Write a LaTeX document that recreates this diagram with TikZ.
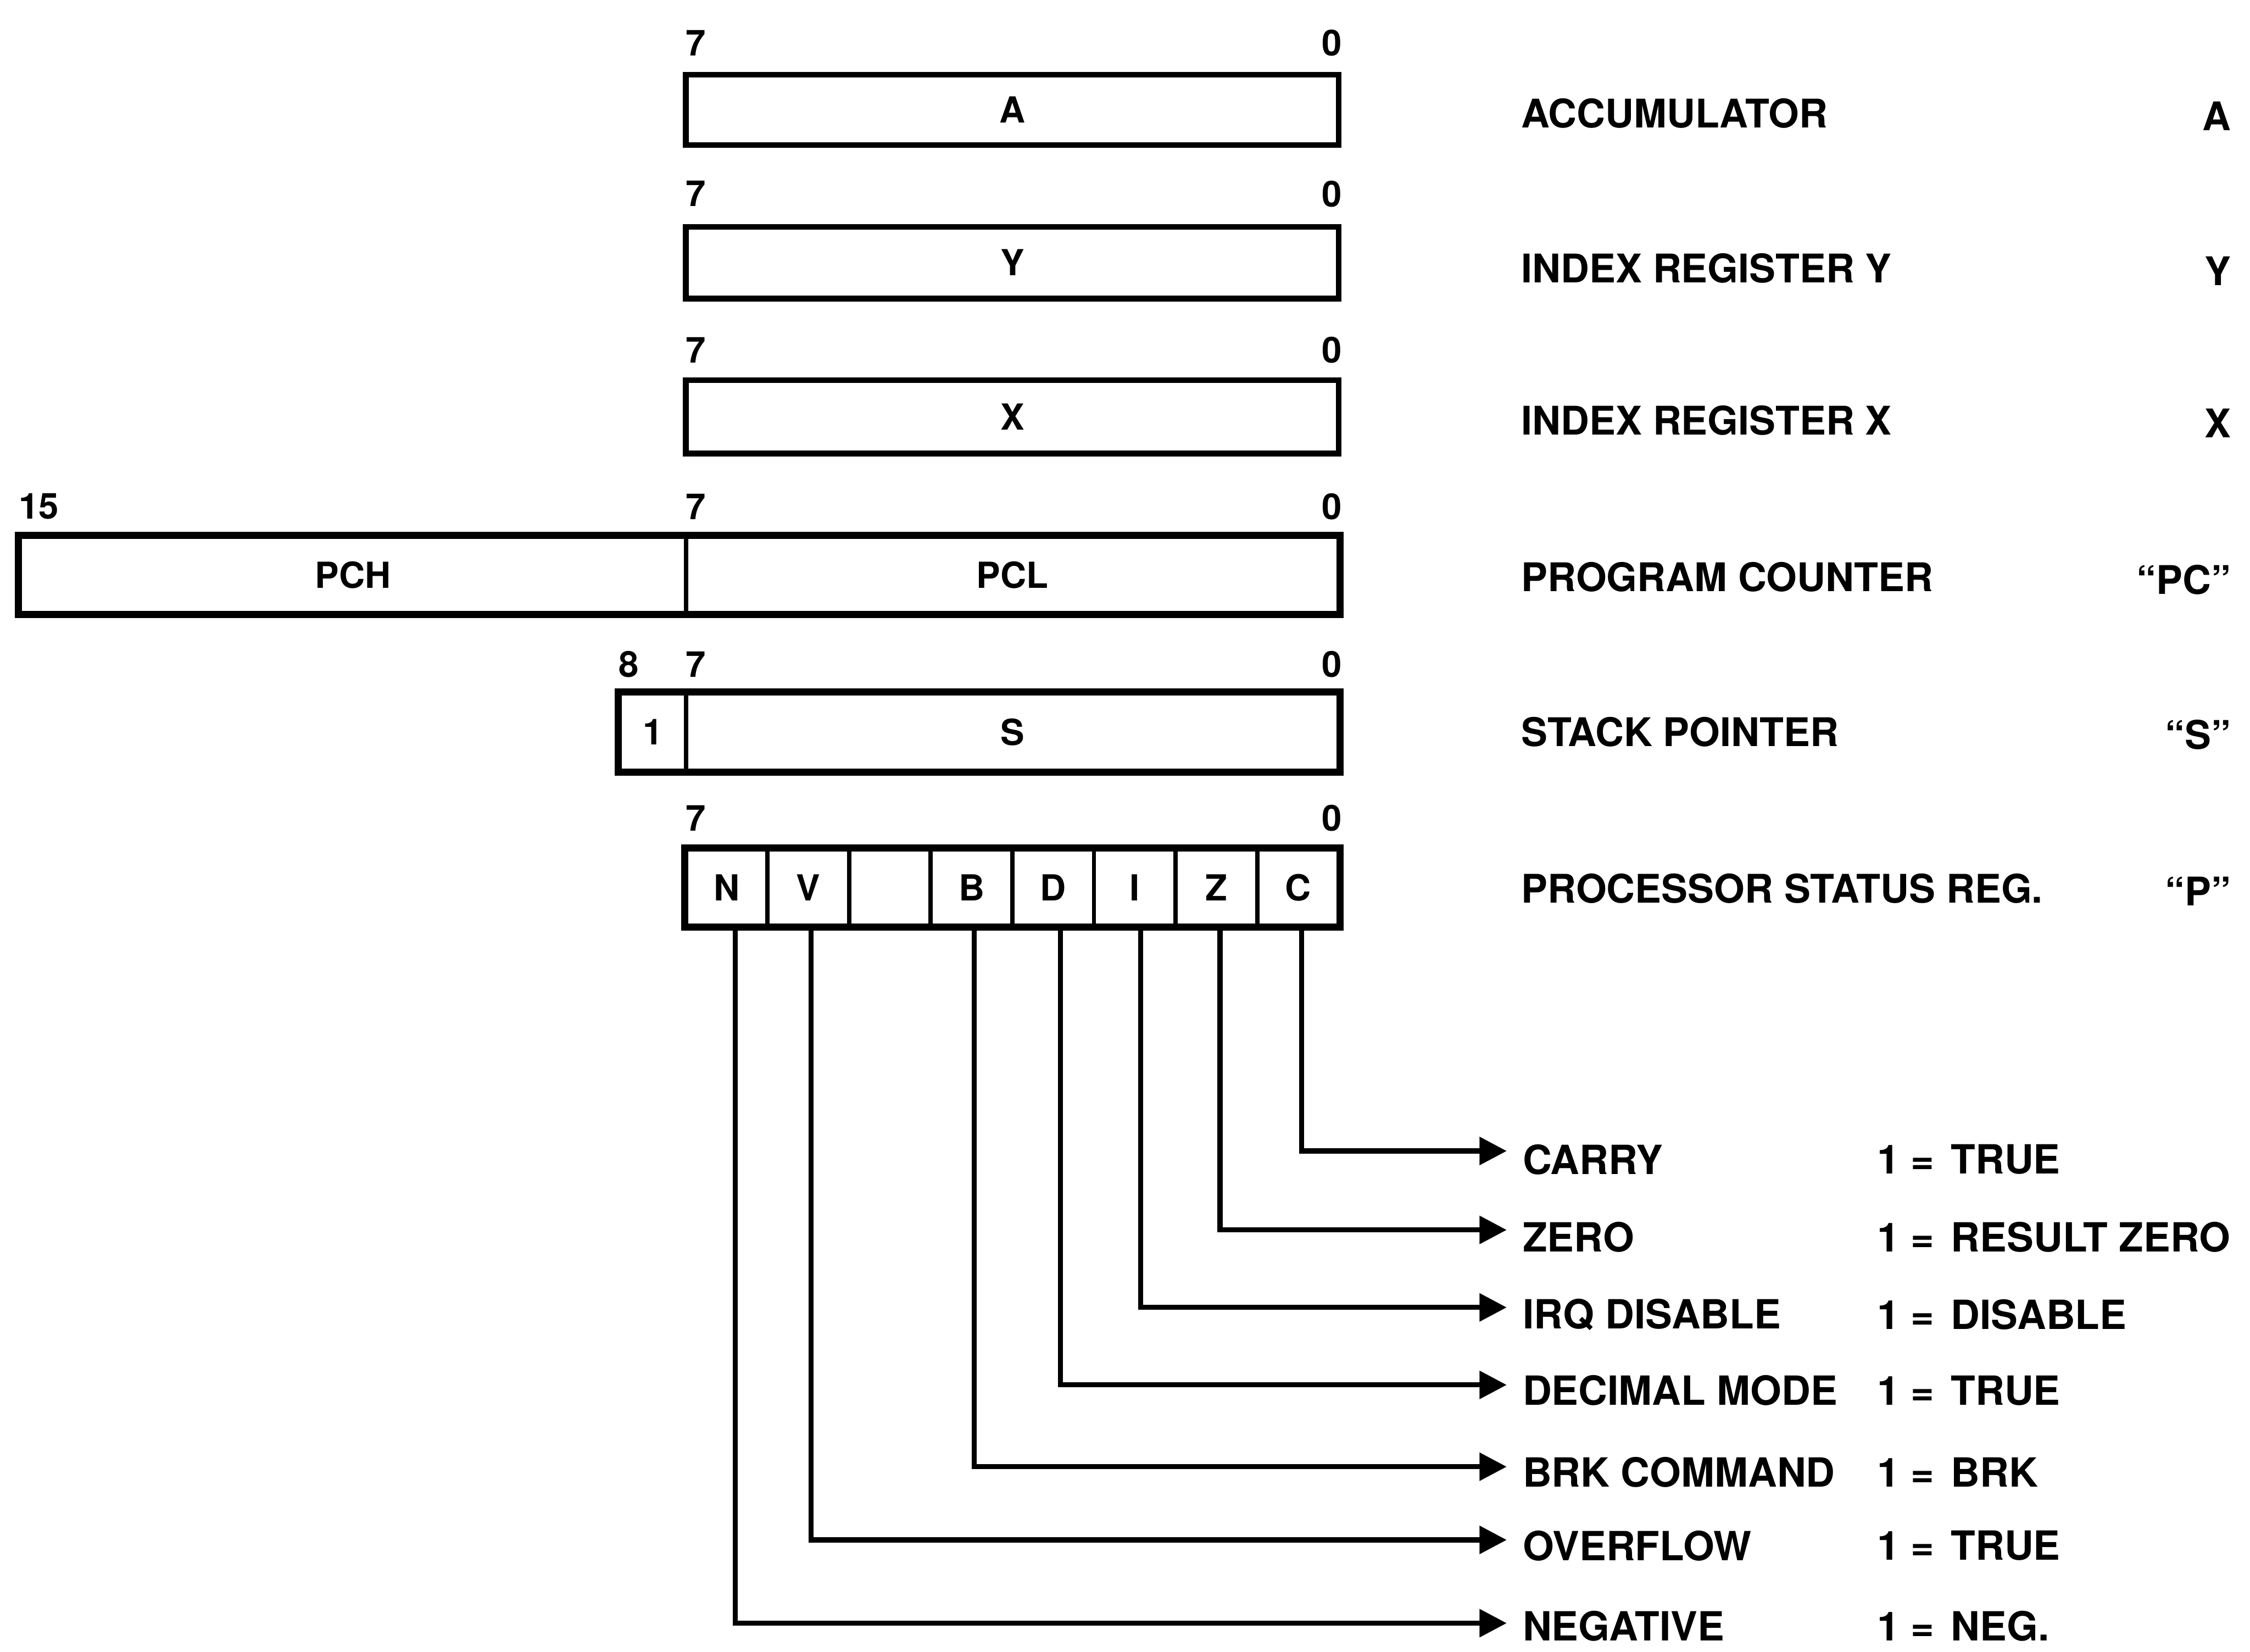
\documentclass[tikz,border=0pt]{standalone}
\usepackage{fontspec}
\setmainfont{TeX Gyre Heros}
\usetikzlibrary{arrows.meta,calc}
\begin{document}
\begin{tikzpicture}[x=1pt,y=-1pt,
  cellbox/.style={draw, line width=3pt, inner sep=0pt, font=\fontsize{25}{25}\selectfont\bfseries},
  regbox/.style={cellbox, line width=4pt},
  outer/.style={line width=4pt},
  bitnum/.style={inner sep=0pt, font=\fontsize{25}{25}\selectfont\bfseries},
  regname/.style={inner sep=0pt, anchor=west, font=\fontsize{27.5}{27.5}\selectfont\bfseries},
  regsym/.style={inner sep=0pt, anchor=east, font=\fontsize{27.5}{27.5}\selectfont\bfseries},
  flagname/.style={inner sep=0pt, anchor=west, font=\fontsize{28}{28}\selectfont\bfseries},
  conn/.style={line width=3.5pt, -{Triangle[length=19pt,width=19pt]}}
]
\useasboundingbox (0,0) rectangle (1568,1151);

% Accumulator
\node[bitnum] (a7) at (485,30) {7};
\node[bitnum] (a0) at (928,30) {0};
\node[regbox, minimum width=455pt, minimum height=49pt] (A) at (705.5,76.5) {A};
\node[regname] (nA) at (1060,79) {ACCUMULATOR};
\node[regsym] (sA) at (1555,81) {A};

% Y
\node[bitnum] (y7) at (485,135) {7};
\node[bitnum] (y0) at (928,135) {0};
\node[regbox, minimum width=455pt, minimum height=50pt] (Y) at (705.5,183) {Y};
\node[regname] (nY) at (1060,187) {INDEX REGISTER Y};
\node[regsym] (sY) at (1555,189) {Y};

% X
\node[bitnum] (x7) at (485,244) {7};
\node[bitnum] (x0) at (928,244) {0};
\node[regbox, minimum width=455pt, minimum height=51pt] (X) at (705.5,290.5) {X};
\node[regname] (nX) at (1060,293) {INDEX REGISTER X};
\node[regsym] (sX) at (1555,295) {X};

% Program counter
\node[bitnum] (pc15) at (27,353) {15};
\node[bitnum] (pc7) at (485,353) {7};
\node[bitnum] (pc0) at (928,353) {0};
\node[cellbox, minimum width=464pt, minimum height=53pt] (PCH) at (246,400.5) {PCH};
\node[cellbox, minimum width=455pt, minimum height=53pt] (PCL) at (705.5,400.5) {PCL};
\draw[outer] (PCH.north west) rectangle (PCL.south east);
\node[regname] (nPC) at (1060,402) {PROGRAM COUNTER};
\node[regsym] (sPC) at (1555,404) {“PC”};

% Stack pointer
\node[bitnum] (s8) at (438,463) {8};
\node[bitnum] (s7) at (485,463) {7};
\node[bitnum] (s0) at (928,463) {0};
\node[cellbox, minimum width=46pt, minimum height=54pt] (S1) at (455,510) {1};
\node[cellbox, minimum width=455pt, minimum height=54pt] (S) at (705.5,510) {S};
\draw[outer] (S1.north west) rectangle (S.south east);
\node[regname] (nS) at (1060,510) {STACK POINTER};
\node[regsym] (sS) at (1555,512) {“S”};

% Processor status
\node[bitnum] (p7) at (485,570) {7};
\node[bitnum] (p0) at (928,570) {0};
\node[cellbox, minimum width=56.875pt, minimum height=53pt] (pN) at (506.44,618.5) {N};
\node[cellbox, minimum width=56.875pt, minimum height=53pt] (pV) at (563.31,618.5) {V};
\node[cellbox, minimum width=56.875pt, minimum height=53pt] (pU) at (620.19,618.5) {};
\node[cellbox, minimum width=56.875pt, minimum height=53pt] (pB) at (677.06,618.5) {B};
\node[cellbox, minimum width=56.875pt, minimum height=53pt] (pD) at (733.94,618.5) {D};
\node[cellbox, minimum width=56.875pt, minimum height=53pt] (pI) at (790.81,618.5) {I};
\node[cellbox, minimum width=56.875pt, minimum height=53pt] (pZ) at (847.69,618.5) {Z};
\node[cellbox, minimum width=56.875pt, minimum height=53pt] (pC) at (904.56,618.5) {C};
\draw[outer] (pN.north west) rectangle (pC.south east);
\node[regname] (nP) at (1060,619) {PROCESSOR STATUS REG.};
\node[regsym] (sP) at (1555,621) {“P”};

% Flag arrow tips
\coordinate (tC) at (1050,802);
\coordinate (tZ) at (1050,857);
\coordinate (tI) at (1050,911);
\coordinate (tD) at (1050,965);
\coordinate (tB) at (1050,1022);
\coordinate (tV) at (1050,1073);
\coordinate (tN) at (1050,1131);

\draw[conn] ([xshift=2.5pt]pC.south) |- (tC);
\draw[conn] ([xshift=2.5pt]pZ.south) |- (tZ);
\draw[conn] ([xshift=4pt]pI.south) |- (tI);
\draw[conn] ([xshift=5pt]pD.south) |- (tD);
\draw[conn] ([xshift=2pt]pB.south) |- (tB);
\draw[conn] ([xshift=2pt]pV.south) |- (tV);
\draw[conn] ([xshift=6pt]pN.south) |- (tN);

% Flag labels
\node[flagname] (fC) at (1061,808) {CARRY};
\node[flagname] (fZ) at (1061,862) {ZERO};
\node[flagname] (fI) at (1061,916) {IRQ DISABLE};
\node[flagname] (fD) at (1061,969) {DECIMAL MODE};
\node[flagname] (fB) at (1061,1026) {BRK COMMAND};
\node[flagname] (fV) at (1061,1077) {OVERFLOW};
\node[flagname] (fN) at (1061,1133) {NEGATIVE};

\node[flagname] (vC) at (1308,808) {1 = \kern4pt TRUE};
\node[flagname] (vZ) at (1308,862) {1 = \kern4pt RESULT ZERO};
\node[flagname] (vI) at (1308,916) {1 = \kern4pt DISABLE};
\node[flagname] (vD) at (1308,969) {1 = \kern4pt TRUE};
\node[flagname] (vB) at (1308,1026) {1 = \kern4pt BRK};
\node[flagname] (vV) at (1308,1077) {1 = \kern4pt TRUE};
\node[flagname] (vN) at (1308,1133) {1 = \kern4pt NEG.};
\end{tikzpicture}
\end{document}
